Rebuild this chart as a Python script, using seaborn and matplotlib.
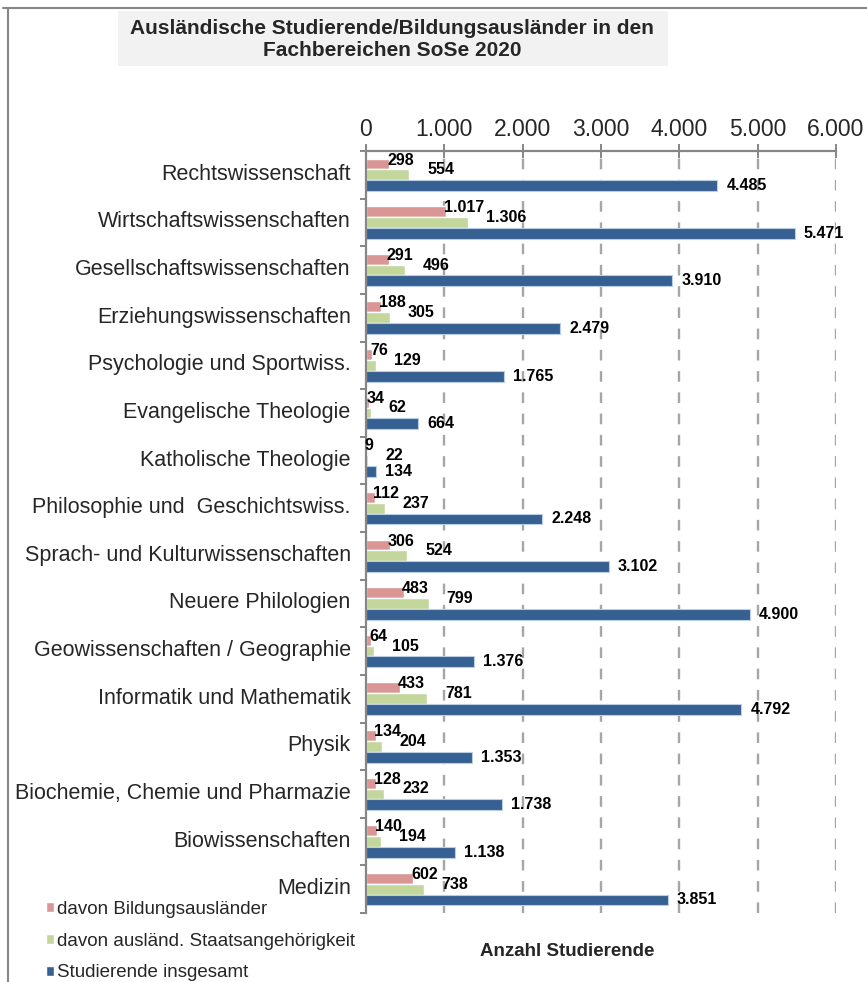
import matplotlib
matplotlib.use("Agg")
import matplotlib.pyplot as plt
from matplotlib.lines import Line2D
from matplotlib.patches import Rectangle
from matplotlib.transforms import ScaledTranslation
import seaborn as sns
import pandas as pd
import numpy as np

categories = [
    "Rechtswissenschaft",
    "Wirtschaftswissenschaften",
    "Gesellschaftswissenschaften",
    "Erziehungswissenschaften",
    "Psychologie und Sportwiss.",
    "Evangelische Theologie",
    "Katholische Theologie",
    "Philosophie und  Geschichtswiss.",
    "Sprach- und Kulturwissenschaften",
    "Neuere Philologien",
    "Geowissenschaften / Geographie",
    "Informatik und Mathematik",
    "Physik",
    "Biochemie, Chemie und Pharmazie",
    "Biowissenschaften",
    "Medizin",
]
bildungsauslaender = [298, 1017, 291, 188, 76, 34, 9, 112, 306, 483, 64, 433, 134, 128, 140, 602]
staatsangehoerigkeit = [554, 1306, 496, 305, 129, 62, 22, 237, 524, 799, 105, 781, 204, 232, 194, 738]
insgesamt = [4485, 5471, 3910, 2479, 1765, 664, 134, 2248, 3102, 4900, 1376, 4792, 1353, 1738, 1138, 3851]

series_names = ["davon Bildungsausländer", "davon ausländ. Staatsangehörigkeit", "Studierende insgesamt"]
series_colors = ["#D99694", "#C3D69B", "#376092"]
x_ticks = [0, 1000, 2000, 3000, 4000, 5000, 6000]
x_ticklabels = ["0", "1.000", "2.000", "3.000", "4.000", "5.000", "6.000"]
title = "Ausländische Studierende/Bildungsausländer in den\nFachbereichen SoSe 2020"
xlabel = "Anzahl Studierende"

df = pd.DataFrame({
    "Fachbereich": categories * 3,
    "Anzahl": bildungsauslaender + staatsangehoerigkeit + insgesamt,
    "Serie": [series_names[0]] * 16 + [series_names[1]] * 16 + [series_names[2]] * 16,
})

sns.set_style("white")
plt.rcParams["font.family"] = ["Liberation Sans", "DejaVu Sans"]

W, H = 867, 982
fig = plt.figure(figsize=(W / 100, H / 100), dpi=100)
ax = fig.add_axes([366 / W, 1 - 913 / H, (836 - 366) / W, (913 - 151) / H])

sns.barplot(data=df, y="Fachbereich", x="Anzahl", hue="Serie", hue_order=series_names,
            order=categories, palette=series_colors, orient="h", width=0.68,
            dodge=True, ax=ax, errorbar=None, saturation=1)

ax.set_xlim(0, 6000)
ax.set_ylim(len(categories) - 0.5, -0.5)

gray = "#868686"
# gridlines
for t in x_ticks[1:]:
    ax.axvline(t, color="#A6A6A6", lw=1.7, ls=(0, (4.5, 4.5)), zorder=0)

# labels on bars
offsets = [(-2, 4), (18, 5), (9, 0)]
for ci, cont in enumerate(ax.containers):
    for bar in cont:
        v = bar.get_width()
        y = bar.get_y() + bar.get_height() / 2
        lab = f"{int(round(v)):,}".replace(",", ".")
        ax.annotate(lab, (v, y), xytext=offsets[ci], textcoords="offset pixels",
                    ha="left", va="center", fontsize=11.5, fontweight="bold", color="black")
    if ci == 2:
        for bar in cont:
            bar.set_edgecolor("#B9CDE5")
            bar.set_linewidth(0.8)

# axes styling
ax.xaxis.tick_top()
ax.set_xticks(x_ticks)
ax.set_xticklabels(x_ticklabels, fontsize=16.5)
ax.tick_params(axis="x", direction="inout", length=10, width=1.4, color=gray, pad=2, top=True, bottom=False)
ax.set_yticks(range(len(categories)))
ax.set_yticklabels(categories, fontsize=15.5)
ax.tick_params(axis="y", which="major", length=0, pad=11)
shift = ScaledTranslation(0, 3 / 100, fig.dpi_scale_trans)
for lbl in ax.get_yticklabels():
    lbl.set_transform(lbl.get_transform() + shift)
ax.set_yticks(np.arange(-0.5, len(categories), 1.0), minor=True)
ax.tick_params(axis="y", which="minor", direction="out", length=4, width=1.4, color=gray, left=True)
ax.set_xlabel("")
ax.set_ylabel("")
for s in ["right", "bottom"]:
    ax.spines[s].set_visible(False)
for s in ["top", "left"]:
    ax.spines[s].set_visible(True)
    ax.spines[s].set_color(gray)
    ax.spines[s].set_linewidth(1.6)

# legend
handles, labels = ax.get_legend_handles_labels()
ax.get_legend().remove()
fig.legend(handles, labels, loc="upper left", bbox_to_anchor=(46 / W, 1 - 901 / H),
           frameon=False, fontsize=13.5, handlelength=0.45, handleheight=0.45,
           handletextpad=0.15, labelspacing=0.78, borderaxespad=0, borderpad=0)

# x label
fig.text(567 / W, 1 - 952 / H, xlabel, ha="center", va="center", fontsize=13.5, fontweight="bold")

# title box
fig.add_artist(Rectangle((118 / W, 1 - 66 / H), (668 - 118) / W, (66 - 11) / H,
                         transform=fig.transFigure, facecolor="#F2F2F2", edgecolor="none", zorder=0))
fig.text(392 / W, 1 - 39 / H, title, ha="center", va="center", fontsize=15, fontweight="bold",
         linespacing=1.2)

# outer frame (top and left)
fig.add_artist(Line2D([3 / W, 1], [1 - 8 / H, 1 - 8 / H], transform=fig.transFigure, color=gray, lw=1.5))
fig.add_artist(Line2D([8 / W, 8 / W], [0, 1 - 8 / H], transform=fig.transFigure, color=gray, lw=1.5))

fig.savefig("out.png", dpi=100)
